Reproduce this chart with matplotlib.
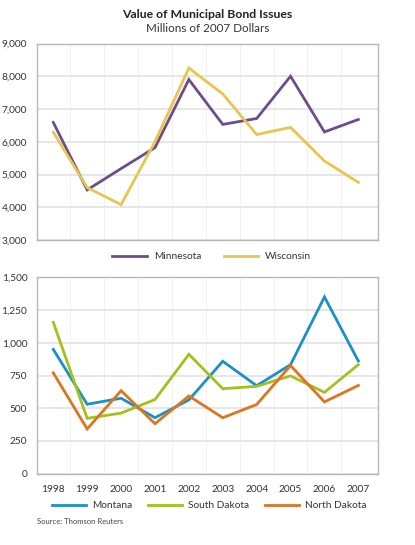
import numpy as np
import matplotlib.pyplot as plt
from matplotlib.ticker import FuncFormatter, MultipleLocator

plt.rcParams['font.family'] = ['Lato', 'DejaVu Sans']

years = ["1998", "1999", "2000", "2001", "2002", "2003", "2004", "2005", "2006", "2007"]

minnesota = [6590, 4530, 5180, 5820, 7900, 6530, 6710, 8000, 6300, 6680]
wisconsin = [6290, 4600, 4080, 6000, 8250, 7460, 6220, 6440, 5410, 4760]

montana = [950, 530, 576, 427, 563, 859, 672, 833, 1351, 861]
south_dakota = [1157, 422, 462, 566, 912, 649, 667, 747, 621, 833]
north_dakota = [770, 341, 634, 381, 593, 427, 528, 826, 548, 674]

W, H = 415, 545
fig = plt.figure(figsize=(W / 100, H / 100), dpi=100)

def box(l, t, r, b):
    return [l / W, 1 - b / H, (r - l) / W, (b - t) / H]

ax1 = fig.add_axes(box(37, 43.5, 378, 240))
ax2 = fig.add_axes(box(37, 277.5, 378, 473.5))

x = np.arange(len(years))
lw = 2.0

ax1.plot(x, minnesota, color="#6d4c8e", lw=lw, label="Minnesota", solid_joinstyle="miter")
ax1.plot(x, wisconsin, color="#e6c550", lw=lw, label="Wisconsin", solid_joinstyle="miter")

ax2.plot(x, montana, color="#1b8fcb", lw=lw, label="Montana", solid_joinstyle="miter")
ax2.plot(x, south_dakota, color="#a6bf1c", lw=lw, label="South Dakota", solid_joinstyle="miter")
ax2.plot(x, north_dakota, color="#dd7422", lw=lw, label="North Dakota", solid_joinstyle="miter")

comma = FuncFormatter(lambda v, p: f"{int(v):,}")

for ax, lo, hi, step in [(ax1, 3000, 9000, 1000), (ax2, 0, 1500, 250)]:
    ax.set_xlim(-0.48, 9.58)
    ax.set_ylim(lo, hi)
    ax.yaxis.set_major_locator(MultipleLocator(step))
    ax.yaxis.set_major_formatter(comma)
    ax.set_xticks(x)
    ax.set_xticks(x[:-1] + 0.5, minor=True)
    ax.grid(axis="y", which="major", color="#e4e4e4", lw=1.3)
    ax.grid(axis="x", which="minor", color="#f0f0f0", lw=0.7)
    ax.set_axisbelow(True)
    for s in ax.spines.values():
        s.set_color("#b8b8b8")
        s.set_linewidth(1.0)
    ax.tick_params(which="both", length=0, labelsize=7.3, colors="#333333", pad=6)
    ax.tick_params(axis="y", pad=7)

ax1.set_xticklabels([])
ax2.set_xticklabels(years)
ax2.tick_params(axis="x", pad=8)

fig.text(0.5, 1 - 15 / H, "Value of Municipal Bond Issues", ha="center", va="center",
         fontsize=8.8, fontweight="bold", color="#222222")
fig.text(0.5, 1 - 29 / H, "Millions of 2007 Dollars", ha="center", va="center",
         fontsize=8.4, color="#333333")

leg1 = ax1.legend(loc="center", bbox_to_anchor=(0.513, -0.085), ncol=2, frameon=False,
                  fontsize=7.3, handlelength=3.4, handletextpad=0.7, columnspacing=2.2)
leg2 = ax2.legend(loc="center", bbox_to_anchor=(0.505, -0.165), ncol=3, frameon=False,
                  fontsize=7.3, handlelength=3.4, handletextpad=0.6, columnspacing=1.5)
for t in leg1.get_texts() + leg2.get_texts():
    t.set_color("#333333")

fig.text(37 / W, 1 - 521.5 / H, "Source: Thomson Reuters", ha="left", va="center",
         fontsize=5.5, color="#444444")

fig.savefig("out.png", dpi=100)
